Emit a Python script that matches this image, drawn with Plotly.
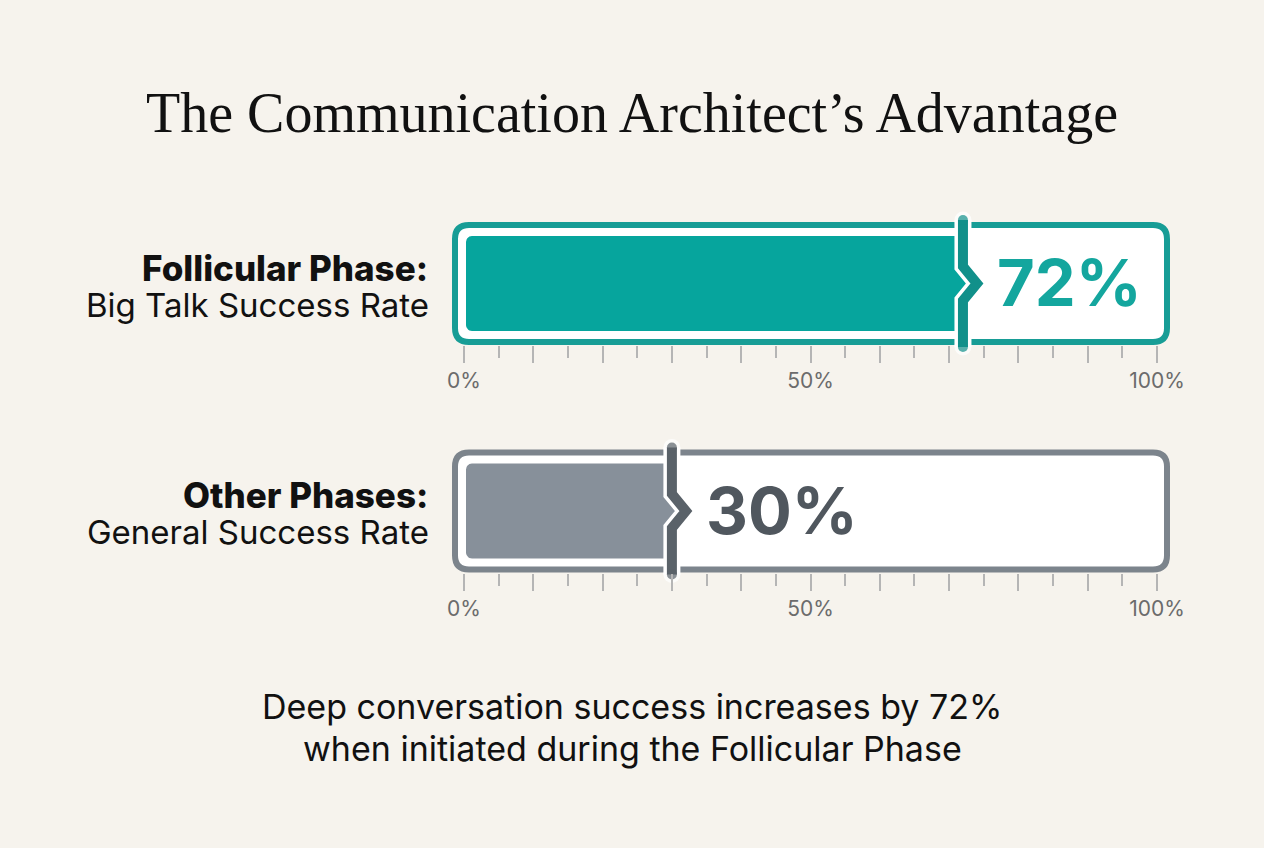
import numpy as np
import plotly.graph_objects as go

# ---------------- data ----------------
title_text = "The Communication Architect\u2019s Advantage"
category_titles = ["Follicular Phase:", "Other Phases:"]
category_subtitles = ["Big Talk Success Rate", "General Success Rate"]
values = [72, 30]
tick_values = [0, 10, 20, 30, 40, 50, 60, 70, 80, 90, 100]
tick_labels = ["0%", "", "", "", "", "50%", "", "", "", "", "100%"]
minor_tick_values = [5, 15, 25, 35, 45, 55, 65, 75, 85, 95]
footnote_lines = ["Deep conversation success increases by 72%",
                  "when initiated during the Follicular Phase"]

# ---------------- style ----------------
W, H = 1264, 848
BG = "#f6f3ed"
fill_colors = ["#06a59d", "#87909a"]
frame_colors = ["#179d96", "#7c848c"]
marker_colors = ["#11908a", "#5a6269"]
value_colors = ["#14a69e", "#50575e"]
SANS = "Inter, 'Noto Sans', Arial, sans-serif"
SERIF = "'Liberation Serif', 'DejaVu Serif', serif"

PX0, PX100 = 464.0, 1157.0          # pixel position of 0% and 100%
PPU = (PX100 - PX0) / 100.0          # pixels per data unit
XR = (-5.0, 105.0)
xdom = [(PX0 + XR[0] * PPU) / W, (PX0 + XR[1] * PPU) / W]
centers_px = [283.5, 511.0]          # vertical centre of each bar frame
HALF = 90.0                          # half height of each subplot (px)
FRAME_HALF = 61.5


def dx(px):
    return px / PPU


def rounded_rect_path(x0, x1, y0, y1, r):
    rx, ry = dx(r), r
    return (f"M {x0+rx},{y1} L {x1-rx},{y1} Q {x1},{y1} {x1},{y1-ry} "
            f"L {x1},{y0+ry} Q {x1},{y0} {x1-rx},{y0} L {x0+rx},{y0} "
            f"Q {x0},{y0} {x0},{y0+ry} L {x0},{y1-ry} Q {x0},{y1} {x0+rx},{y1} Z")


fig = go.Figure()
shapes, annotations = [], []
layout_axes = {}

for i, v in enumerate(values):
    sfx = "" if i == 0 else str(i + 1)
    xa, ya = "x" + sfx, "y" + sfx
    cpx = centers_px[i]
    ydom = [1 - (cpx + HALF) / H, 1 - (cpx - HALF) / H]

    # frame (rounded rectangle with coloured border, white inside)
    shapes.append(dict(type="path", xref=xa, yref=ya, layer="below",
                       path=rounded_rect_path(-dx(9), 100 + dx(10), -58.5, 58.5, 14),
                       line=dict(color=frame_colors[i], width=6), fillcolor="white"))

    # filled bar with chevron notch at the value
    r, top, fx0 = 6.0, 47.5, 2.0
    d, c = 17.0, 14.0
    a1 = np.linspace(np.pi / 2, np.pi, 8)
    a2 = np.linspace(np.pi, 1.5 * np.pi, 8)
    xs = [dx(fx0 + r), v, v, v + dx(c), v, v, dx(fx0 + r)]
    ys = [top, top, d, 0, -d, -top, -top]
    xs += list(dx(fx0 + r + r * np.cos(a2[::-1])))
    ys += list(-top + r + r * np.sin(a2[::-1]))
    xs += list(dx(fx0 + r + r * np.cos(a1[::-1])))
    ys += list(top - r + r * np.sin(a1[::-1]))
    fig.add_trace(go.Scatter(x=xs, y=ys, xaxis=xa, yaxis=ya, mode="lines",
                             fill="toself", fillcolor=fill_colors[i],
                             line=dict(width=0, color=fill_colors[i]),
                             hoverinfo="skip", showlegend=False))

    # marker: vertical line with chevron
    mx = [v, v, v + dx(c), v, v]
    my = [63.5, d, 0, -d, -63.5]
    fig.add_trace(go.Scatter(x=mx, y=my, xaxis=xa, yaxis=ya, mode="lines+markers",
                             line=dict(color="white", width=17),
                             marker=dict(size=[17, 0, 0, 0, 17], color="white",
                                         line=dict(width=0)),
                             hoverinfo="skip", showlegend=False))
    fig.add_trace(go.Scatter(x=mx, y=my, xaxis=xa, yaxis=ya, mode="lines+markers",
                             line=dict(color=marker_colors[i], width=10),
                             marker=dict(size=[10, 0, 0, 0, 10], color=marker_colors[i],
                                         line=dict(width=0)),
                             hoverinfo="skip", showlegend=False))

    # value label
    annotations.append(dict(x=v + dx(32), y=1, xref=xa, yref=ya, xanchor="left",
                            yanchor="middle", showarrow=False,
                            text=f"<b>{v}%</b>",
                            font=dict(family=SANS, size=65, color=value_colors[i])))

    # category labels
    annotations.append(dict(x=430 / W, y=1 - (cpx - 16) / H, xref="paper", yref="paper",
                            xanchor="right", yanchor="middle", showarrow=False,
                            text=category_titles[i],
                            font=dict(family=SANS, size=35, color="#111111", weight=800)))
    annotations.append(dict(x=431 / W, y=1 - (cpx + 21) / H, xref="paper", yref="paper",
                            xanchor="right", yanchor="middle", showarrow=False,
                            text=category_subtitles[i],
                            font=dict(family=SANS, size=33, color="#111111")))

    layout_axes["xaxis" + sfx] = dict(
        domain=xdom, range=list(XR), anchor="free",
        position=1 - (cpx + FRAME_HALF) / H,
        showgrid=False, zeroline=False, showline=False,
        tickmode="array", tickvals=tick_values, ticktext=tick_labels,
        ticks="outside", ticklen=17, tickwidth=1.5, tickcolor="#b5b5b5",
        tickfont=dict(family=SANS, size=21, color="#6b6b6b"),
        minor=dict(tickmode="array", tickvals=minor_tick_values, ticks="outside",
                   ticklen=12, tickwidth=1.5, tickcolor="#b5b5b5"),
        fixedrange=True)
    layout_axes["yaxis" + sfx] = dict(domain=ydom, range=[-HALF, HALF], visible=False,
                                      anchor=xa, fixedrange=True)

# title
annotations.append(dict(x=0.5, y=1 - 113 / H, xref="paper", yref="paper",
                        xanchor="center", yanchor="middle", showarrow=False,
                        text=title_text,
                        font=dict(family=SERIF, size=56, color="#111111")))
# footnote
annotations.append(dict(x=0.5, y=1 - 706 / H, xref="paper", yref="paper",
                        xanchor="center", yanchor="middle", showarrow=False,
                        text=footnote_lines[0],
                        font=dict(family=SANS, size=34, color="#111111")))
annotations.append(dict(x=0.5, y=1 - 748 / H, xref="paper", yref="paper",
                        xanchor="center", yanchor="middle", showarrow=False,
                        text=footnote_lines[1],
                        font=dict(family=SANS, size=34, color="#111111")))

fig.update_layout(width=W, height=H, margin=dict(l=0, r=0, t=0, b=0),
                  paper_bgcolor=BG, plot_bgcolor="rgba(0,0,0,0)",
                  shapes=shapes, annotations=annotations, showlegend=False,
                  hovermode=False, **layout_axes)

fig.write_html("out.html", config={"displayModeBar": False})
